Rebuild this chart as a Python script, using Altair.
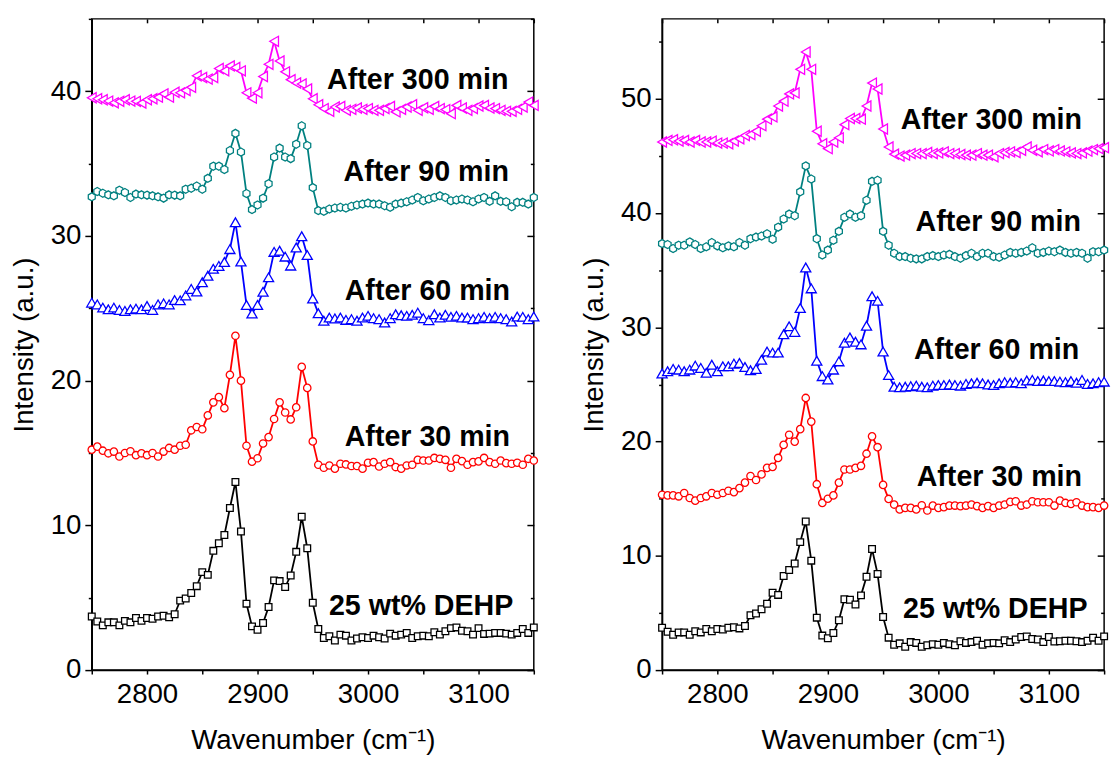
import altair as alt
import pandas as pd

FONT = "Liberation Sans, Arial, sans-serif"

WAVENUMBER = list(range(2750, 3151, 5))

SERIES = ["25 wt% DEHP", "After 30 min", "After 60 min", "After 90 min", "After 300 min"]
COLORS = ["#000000", "#FF0000", "#0000FF", "#008080", "#FF00FF"]

# ---- left panel ----
DEHP = [3.7, 3.36, 3.09, 3.3, 3.3, 3.09, 3.4, 3.3, 3.6, 3.4,
        3.6, 3.55, 3.7, 3.75, 3.65, 3.86, 4.8, 4.95, 5.33, 5.8,
        6.77, 6.58, 8.24, 8.76, 9.33, 11.2, 13.0, 9.58, 4.59, 3.02,
        2.79, 3.25, 4.36, 6.2, 6.15, 5.74, 6.54, 8.17, 10.6, 8.42,
        4.65, 2.84, 2.22, 2.34, 2.04, 2.45, 2.38, 2.04, 2.18, 2.27,
        2.22, 2.38, 2.27, 2.18, 2.52, 2.38, 2.45, 2.57, 2.22, 2.34,
        2.38, 2.34, 2.61, 2.45, 2.68, 2.9, 2.95, 2.72, 2.68, 2.45,
        2.9, 2.5, 2.52, 2.57, 2.57, 2.52, 2.45, 2.57, 2.84, 2.57,
        2.95]
L30 = [15.23, 15.44, 15.16, 14.98, 15.1, 14.76, 15.0, 15.12, 14.85, 14.98,
       14.85, 15.0, 14.76, 15.1, 15.35, 15.23, 15.5, 15.57, 16.57, 16.8,
       16.64, 17.6, 18.5, 18.86, 18.1, 20.4, 23.1, 20.0, 15.5, 14.4,
       14.64, 15.66, 16.1, 17.35, 18.5, 17.8, 17.32, 18.16, 20.95, 19.5,
       15.8, 14.19, 13.98, 14.14, 13.92, 14.26, 14.21, 14.1, 14.1, 13.92,
       14.33, 14.37, 14.07, 14.26, 14.37, 14.03, 13.92, 14.14, 14.19, 14.53,
       14.48, 14.48, 14.66, 14.6, 14.53, 13.98, 14.6, 14.44, 14.19, 14.37,
       14.42, 14.66, 14.37, 14.26, 14.48, 14.3, 14.26, 14.33, 14.19, 14.6,
       14.48]
L60 = [25.39, 25.27, 25.05, 24.93, 25.05, 24.89, 24.82, 24.93, 24.98, 24.93,
       25.16, 24.89, 25.27, 25.34, 25.27, 25.57, 25.55, 25.89, 26.34, 26.16,
       26.8, 27.25, 27.73, 27.93, 28.2, 29.09, 30.95, 28.23, 25.23, 24.64,
       25.23, 26.14, 27.14, 28.9, 28.98, 28.57, 27.95, 29.2, 29.98, 28.68,
       25.68, 24.66, 24.14, 24.36, 24.3, 24.36, 24.2, 24.25, 24.14, 24.36,
       24.48, 24.32, 24.25, 24.02, 24.32, 24.59, 24.52, 24.48, 24.55, 24.7,
       24.32, 24.18, 24.59, 24.36, 24.55, 24.41, 24.48, 24.36, 24.36, 24.25,
       24.32, 24.41, 24.32, 24.41, 24.32, 24.25, 24.09, 24.43, 24.41, 24.25,
       24.43]
L90 = [32.7, 33.07, 32.95, 32.84, 32.77, 33.16, 33.0, 32.66, 32.89, 32.84,
       32.82, 32.77, 32.7, 32.61, 32.84, 32.82, 32.77, 33.23, 33.3, 33.45,
       33.23, 33.98, 34.82, 34.82, 34.59, 35.9, 37.09, 35.8, 32.93, 31.82,
       32.14, 32.61, 33.61, 35.45, 36.07, 35.45, 35.34, 36.34, 37.61, 36.25,
       33.34, 31.75, 31.7, 31.86, 31.93, 31.98, 31.93, 32.05, 32.14, 32.2,
       32.27, 32.2, 32.2, 32.09, 31.98, 32.2, 32.27, 32.36, 32.48, 32.66,
       32.43, 32.55, 32.66, 32.77, 32.66, 32.43, 32.48, 32.55, 32.48, 32.36,
       32.55, 32.66, 32.39, 32.77, 32.39, 32.36, 32.02, 32.32, 32.32, 32.2,
       32.66]
L300 = [39.55, 39.48, 39.41, 39.32, 39.2, 39.3, 39.41, 39.32, 39.3, 39.18,
        39.41, 39.48, 39.59, 39.82, 39.59, 39.93, 39.89, 40.05, 40.27, 41.07,
        40.95, 40.84, 40.95, 41.57, 41.41, 41.75, 41.64, 41.41, 39.89, 39.52,
        39.89, 41.02, 41.86, 43.45, 42.09, 41.34, 40.8, 40.57, 40.5, 40.16,
        39.48, 39.07, 38.8, 38.61, 38.91, 38.95, 38.68, 38.75, 38.84, 38.75,
        38.8, 38.68, 38.68, 38.8, 38.95, 38.57, 38.75, 38.91, 39.07, 38.68,
        38.86, 38.75, 38.95, 38.8, 38.73, 38.45, 39.02, 38.84, 38.68, 38.8,
        38.98, 39.02, 38.84, 38.8, 38.68, 38.61, 38.61, 38.75, 38.91, 39.25,
        39.02]

# ---- right panel ----
R30 = [15.35, 15.29, 15.29, 15.21, 15.5, 15.06, 14.83, 15.06, 15.21, 15.5,
       15.35, 15.5, 15.7, 15.58, 15.93, 16.41, 16.99, 16.64, 17.13, 17.7,
       17.79, 18.57, 19.71, 20.6, 20.0, 21.09, 23.82, 21.75, 16.27, 14.63,
       15.0, 15.29, 16.41, 17.56, 17.56, 17.7, 17.88, 18.94, 20.46, 19.51,
       16.21, 14.98, 14.49, 14.06, 14.2, 14.2, 14.06, 14.43, 13.97, 14.4,
       14.2, 14.26, 14.4, 14.4, 14.35, 14.4, 14.49, 14.35, 14.2, 14.35,
       14.2, 14.4, 14.49, 14.72, 14.78, 14.4, 14.49, 14.78, 14.69, 14.69,
       14.69, 14.4, 14.83, 14.63, 14.55, 14.69, 14.4, 14.26, 14.26, 14.2,
       14.4]
R60 = [25.96, 26.16, 26.36, 26.3, 26.16, 26.3, 26.65, 26.45, 26.02, 26.73,
       26.16, 26.59, 26.59, 26.82, 26.88, 26.53, 26.25, 26.36, 27.16, 27.88,
       27.79, 27.79, 29.4, 30.09, 29.6, 31.69, 35.24, 33.41, 27.08, 25.73,
       25.44, 26.3, 27.02, 28.65, 29.11, 28.74, 28.51, 30.14, 32.72, 32.32,
       27.88, 25.82, 24.8, 24.75, 24.8, 24.85, 24.9, 24.8, 24.75, 24.9,
       24.95, 24.95, 25.0, 24.95, 24.9, 25.05, 25.1, 25.15, 25.1, 25.0,
       24.95, 25.1, 25.2, 25.15, 25.2, 25.1, 25.35, 25.4, 25.3, 25.35,
       25.3, 25.3, 25.25, 25.2, 25.3, 25.15, 25.4, 25.05, 25.1, 25.2,
       25.25]
R90 = [37.33, 37.25, 36.9, 37.19, 37.19, 37.48, 37.25, 36.9, 37.05, 37.42,
       37.13, 36.96, 37.13, 37.05, 37.42, 37.19, 37.76, 37.9, 37.99, 38.19,
       37.71, 38.77, 39.48, 39.91, 39.77, 41.86, 44.13, 42.98, 37.76, 36.33,
       36.76, 37.62, 38.4, 39.63, 39.91, 39.63, 39.77, 41.12, 42.78, 42.87,
       38.4, 37.19, 36.48, 36.19, 36.19, 36.05, 35.99, 35.99, 36.19, 36.28,
       36.19, 36.33, 36.39, 36.19, 36.05, 36.28, 36.48, 36.19, 36.48, 36.48,
       36.19, 36.13, 36.33, 36.56, 36.48, 36.56, 36.68, 36.96, 36.48, 36.56,
       36.68, 36.62, 36.76, 36.56, 36.48, 36.56, 36.48, 36.05, 36.62, 36.62,
       36.76]
R300 = [46.22, 46.36, 46.42, 46.3, 46.36, 46.22, 46.36, 46.22, 46.22, 46.3,
        46.13, 46.13, 46.07, 46.3, 46.5, 46.79, 46.88, 47.16, 47.65, 48.22,
        48.42, 49.37, 49.8, 50.43, 50.52, 52.58, 54.1, 52.58, 47.16, 46.07,
        45.64, 46.22, 46.59, 47.74, 48.28, 48.28, 48.22, 49.37, 51.38, 50.86,
        47.36, 45.79, 45.16, 44.99, 45.07, 45.21, 45.21, 45.21, 45.3, 45.21,
        45.27, 45.36, 45.21, 45.21, 45.13, 45.07, 45.07, 45.21, 45.07, 45.07,
        44.93, 45.21, 45.3, 45.36, 45.3, 45.5, 45.79, 45.5, 45.36, 45.56,
        45.44, 45.56, 45.44, 45.36, 45.27, 45.21, 45.27, 45.42, 45.56, 45.64,
        45.73]

LEFT_LABEL_X = [3131.5, 3128.5, 3128.5, 3127.5, 3127.0]
LEFT_LABEL_Y = [4.4, 16.1, 26.2, 34.4, 40.8]
RIGHT_LABEL_X = [3135.0, 3130.0, 3127.5, 3129.0, 3130.0]
RIGHT_LABEL_Y = [5.3, 16.9, 28.0, 39.25, 48.1]

X_TICKS = [2750, 2800, 2850, 2900, 2950, 3000, 3050, 3100, 3150]
LEFT_Y_TICKS = [0, 5, 10, 15, 20, 25, 30, 35, 40, 45]
RIGHT_Y_TICKS = [0, 5, 10, 15, 20, 25, 30, 35, 40, 45, 50, 55]

HEX = "M0,-1L0.866,-0.5L0.866,0.5L0,1L-0.866,0.5L-0.866,-0.5Z"
LEFT_SHAPES = ["square", "circle", "triangle-up", HEX, "triangle-left"]
RIGHT_SHAPES = ["square", "circle", "triangle-up", "triangle-down", "triangle-left"]
LEFT_SIZES = [46, 56, 105, 66, 105]
RIGHT_SIZES = [46, 56, 105, 105, 105]

MAJOR = "datum.value % 10 === 0"
MAJOR_X = "datum.value % 100 === 0"


def panel(series_values, shapes, sizes, ymax, yticks, label_x, label_y):
    rows = []
    for name, vals in zip(SERIES, series_values):
        for xv, yv in zip(WAVENUMBER, vals):
            rows.append({"x": xv, "y": yv, "series": name})
    df = pd.DataFrame(rows)
    labels = pd.DataFrame({"x": label_x, "y": label_y, "text": SERIES})

    xs = alt.Scale(domain=[2750, 3150], nice=False, zero=False)
    ys = alt.Scale(domain=[0, ymax], nice=False, zero=False)
    color = alt.Color("series:N", scale=alt.Scale(domain=SERIES, range=COLORS), legend=None)

    lines = alt.Chart(df).mark_line(strokeWidth=1.8).encode(
        x=alt.X("x:Q", scale=xs, axis=alt.Axis(
            orient="bottom", values=X_TICKS, format="d",
            labelExpr=MAJOR_X + " ? datum.label : ''",
            labelFontSize={"condition": {"test": MAJOR_X, "value": 28}, "value": 0},
            tickSize=4, labelPadding=7, title="Wavenumber (cm\u207b\u00b9)", titlePadding=18)),
        y=alt.Y("y:Q", scale=ys, axis=alt.Axis(
            orient="left", values=yticks, format="d",
            labelExpr=MAJOR + " ? datum.label : ''",
            labelFontSize={"condition": {"test": MAJOR, "value": 28}, "value": 0},
            tickSize={"condition": {"test": MAJOR, "value": 7}, "value": 3.5},
            labelPadding=4, title="Intensity (a.u.)", titlePadding=12)),
        color=color,
        detail="series:N",
    )

    points = alt.Chart(df).mark_point(filled=False, fill="white", fillOpacity=1, strokeWidth=1.3, opacity=1).encode(
        x=alt.X("x:Q", scale=xs, axis=alt.Axis(
            orient="top", values=X_TICKS, labels=False, title=None, domain=False,
            tickSize={"condition": {"test": "datum.value > 0", "value": -4}, "value": -4})),
        y=alt.Y("y:Q", scale=ys, axis=alt.Axis(
            orient="right", values=yticks, labels=False, title=None, domain=False,
            tickSize={"condition": {"test": MAJOR, "value": -7}, "value": -3.5})),
        color=color,
        shape=alt.Shape("series:N", scale=alt.Scale(domain=SERIES, range=shapes), legend=None),
        size=alt.Size("series:N", scale=alt.Scale(type="ordinal", domain=SERIES, range=sizes), legend=None),
    )

    text = alt.Chart(labels).mark_text(
        align="right", baseline="middle", fontSize=29, fontWeight="bold", font=FONT, color="black"
    ).encode(
        x=alt.X("x:Q", scale=xs, axis=None),
        y=alt.Y("y:Q", scale=ys, axis=None),
        text="text:N",
    )

    return alt.layer(lines, points, text).resolve_axis(x="independent", y="independent").properties(
        width=448, height=660)


left = panel([DEHP, L30, L60, L90, L300], LEFT_SHAPES, LEFT_SIZES, 45, LEFT_Y_TICKS, LEFT_LABEL_X, LEFT_LABEL_Y)
right = panel([DEHP, R30, R60, R90, R300], RIGHT_SHAPES, RIGHT_SIZES, 57, RIGHT_Y_TICKS, RIGHT_LABEL_X, RIGHT_LABEL_Y)

chart = alt.hconcat(left, right, spacing=38).configure(
    padding={"left": 10, "top": 12, "right": 0, "bottom": 0},
    font=FONT,
    background="white",
).configure_axis(
    labelFont=FONT, titleFont=FONT, labelFontSize=28, titleFontSize=28,
    titleFontWeight="normal", labelColor="black", titleColor="black",
    tickColor="black", domainColor="black", tickWidth=1.5, domainWidth=1.5,
    grid=False, labelOverlap=False, labelFlush=False,
).configure_view(stroke="black", strokeWidth=1.5)

chart.save("out.html", embed_options={"renderer": "svg", "actions": False})
